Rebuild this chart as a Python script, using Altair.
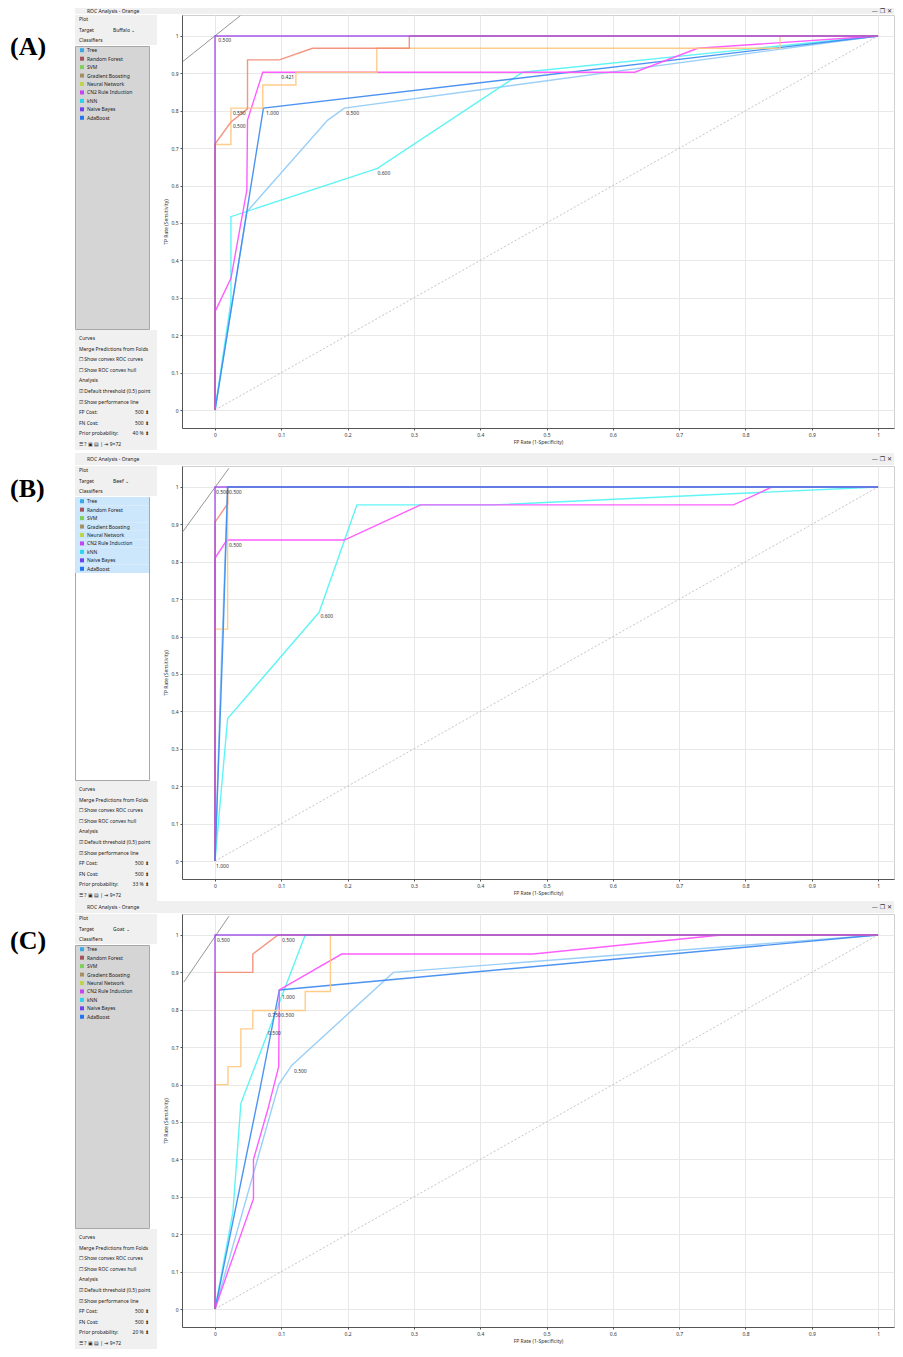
import altair as alt
import pandas as pd

# ---------------- text / categories ----------------
PANEL_LABELS = ["(A)", "(B)", "(C)"]
WINDOW_TITLE = "ROC Analysis - Orange"
TARGETS = ["Buffalo", "Beef", "Goat"]
PRIORS = ["40 %", "33 %", "20 %"]
CLASSIFIERS = ["Tree", "Random Forest", "SVM", "Gradient Boosting", "Neural Network",
               "CN2 Rule Induction", "kNN", "Naive Bayes", "AdaBoost"]
CLASSIFIER_COLORS = ["#3aa8e6", "#a5525b", "#7fcf5b", "#a58f60", "#bdd44b",
                     "#c543f0", "#2bd3ee", "#6d41ef", "#2174ef"]
TICKS = [0, 0.1, 0.2, 0.3, 0.4, 0.5, 0.6, 0.7, 0.8, 0.9, 1]
TOP_ROWS = ["Plot", "Target", "Classifiers"]
BOTTOM_ROWS = ["Curves", "Merge Predictions from Folds", "\u2610 Show convex ROC curves",
               "\u2610 Show ROC convex hull", "Analysis", "\u2611 Default threshold (0.5) point",
               "\u2611 Show performance line", "FP Cost:", "FN Cost:", "Prior probability:",
               "\u2630  ?  \u25a3  \u25a4  |  \u21e5 9\u00d772"]
FP_COST = "500"
FN_COST = "500"

# curve colours as drawn in the plots
C_LBLUE, C_CYAN, C_BLUE = "#8fcaf6", "#4ff3f5", "#3a88f0"
C_MAGENTA, C_ORANGE, C_SALMON, C_PURPLE = "#ff4cff", "#ffc77d", "#f38a73", "#9a46e8"

DIAG_X = [0, 1]
DIAG_Y = [0, 1]

# ---------------- panel A ----------------
A_LBLUE_X = [0, 0.048, 0.17, 0.195, 1]
A_LBLUE_Y = [0, 0.53, 0.775, 0.807, 1]
A_CYAN_X = [0, 0.024, 0.024, 0.245, 0.464, 1]
A_CYAN_Y = [0, 0.29, 0.517, 0.646, 0.903, 1]
A_BLUE_X = [0, 0.073, 1]
A_BLUE_Y = [0, 0.807, 1]
A_MAGENTA_X = [0, 0, 0.024, 0.048, 0.049, 0.072, 0.633, 0.728, 1]
A_MAGENTA_Y = [0, 0.263, 0.352, 0.588, 0.775, 0.903, 0.903, 0.967, 1]
A_ORANGE_X = [0, 0, 0.024, 0.024, 0.072, 0.072, 0.122, 0.122, 0.244, 0.244, 0.852, 0.852, 1]
A_ORANGE_Y = [0, 0.71, 0.71, 0.807, 0.807, 0.869, 0.869, 0.903, 0.903, 0.967, 0.967, 1, 1]
A_SALMON_X = [0, 0, 0.024, 0.049, 0.049, 0.097, 0.147, 0.293, 0.293, 1]
A_SALMON_Y = [0, 0.711, 0.77, 0.805, 0.936, 0.936, 0.967, 0.967, 1, 1]
A_PURPLE_X = [0, 0, 1]
A_PURPLE_Y = [0, 1, 1]
A_PERF_X = [-0.049, 0.038]
A_PERF_Y = [0.931, 1.054]
A_LABEL_X = [0.005, 0.10, 0.027, 0.027, 0.077, 0.198, 0.245]
A_LABEL_Y = [0.989, 0.89, 0.794, 0.759, 0.794, 0.794, 0.633]
A_LABEL_TEXT = ["0.500", "0.421", "0.550", "0.500", "1.000", "0.500", "0.600"]

# ---------------- panel B ----------------
B_LBLUE_X = [0, 0.008, 0.019, 1]
B_LBLUE_Y = [0, 0.45, 1, 1]
B_CYAN_X = [0, 0.019, 0.157, 0.214, 0.42, 1]
B_CYAN_Y = [0, 0.381, 0.665, 0.952, 0.952, 1]
B_BLUE_X = [0, 0.012, 0.019, 1]
B_BLUE_Y = [0, 0.594, 1, 1]
B_MAGENTA_X = [0, 0, 0.018, 0.195, 0.31, 0.782, 0.84, 1]
B_MAGENTA_Y = [0, 0.81, 0.858, 0.858, 0.952, 0.952, 1, 1]
B_ORANGE_X = [0, 0, 0.019, 0.019, 1]
B_ORANGE_Y = [0, 0.62, 0.62, 1, 1]
B_SALMON_X = [0, 0, 0.019, 0.019, 1]
B_SALMON_Y = [0, 0.906, 0.955, 1, 1]
B_PURPLE_X = [0, 0, 1]
B_PURPLE_Y = [0, 1, 1]
B_PERF_X = [-0.05, 0.021]
B_PERF_Y = [0.877, 1.05]
B_LABEL_X = [0.0015, 0.021, 0.021, 0.159, 0.0015]
B_LABEL_Y = [0.987, 0.987, 0.845, 0.654, -0.013]
B_LABEL_TEXT = ["0.500", "0.500", "0.500", "0.600", "1.000"]

# ---------------- panel C ----------------
C_LBLUE_X = [0, 0.096, 0.116, 0.269, 1]
C_LBLUE_Y = [0, 0.6, 0.652, 0.9, 1]
C_CYAN_X = [0, 0.027, 0.039, 0.136, 1]
C_CYAN_Y = [0, 0.26, 0.55, 1, 1]
C_BLUE_X = [0, 0.068, 0.097, 1]
C_BLUE_Y = [0, 0.59, 0.853, 1]
C_MAGENTA_X = [0, 0.02, 0.058, 0.058, 0.08, 0.096, 0.097, 0.191, 0.48, 0.763, 1]
C_MAGENTA_Y = [0, 0.103, 0.295, 0.40, 0.536, 0.648, 0.853, 0.949, 0.949, 1, 1]
C_ORANGE_X = [0, 0, 0.0196, 0.0196, 0.039, 0.039, 0.057, 0.057, 0.136, 0.136, 0.174, 0.174, 1]
C_ORANGE_Y = [0, 0.60, 0.60, 0.648, 0.648, 0.749, 0.749, 0.798, 0.798, 0.849, 0.849, 1, 1]
C_SALMON_X = [0, 0, 0.057, 0.057, 0.095, 1]
C_SALMON_Y = [0, 0.90, 0.90, 0.949, 1, 1]
C_PURPLE_X = [0, 0, 1]
C_PURPLE_Y = [0, 1, 1]
C_PERF_X = [-0.047, 0.021]
C_PERF_Y = [0.874, 1.05]
C_LABEL_X = [0.003, 0.101, 0.101, 0.08, 0.1, 0.08, 0.119]
C_LABEL_Y = [0.986, 0.986, 0.835, 0.786, 0.786, 0.737, 0.636]
C_LABEL_TEXT = ["0.500", "0.500", "1.000", "0.750", "0.500", "0.500", "0.500"]

# ---------------- styling ----------------
UI_FONT = "Noto Sans"
X_DOMAIN = [-0.0498, 1.024]
Y_DOMAIN = [-0.048, 1.056]
PLOT_W, PLOT_H = 712, 413
SIDE_W = 82
LABEL_W = 66
BODY_SPACING = 6
ROW_H = 445
TITLEBAR_HEIGHTS = [6, 12, 12]
LABEL_Y = [39, 36, 40]

axis_common = dict(values=TICKS, format="~g", grid=True, gridColor="#e8e8e8",
                   domainColor="#555", tickColor="#555", tickSize=2,
                   labelFontSize=5, titleFontSize=5, titleFontWeight="normal",
                   labelColor="#333", titleColor="#333", labelFont=UI_FONT,
                   titleFont=UI_FONT, labelPadding=2, titlePadding=2)
X = alt.X("fpr:Q", scale=alt.Scale(domain=X_DOMAIN, nice=False, zero=False),
          axis=alt.Axis(title="FP Rate (1-Specificity)", **axis_common))
Y = alt.Y("tpr:Q", scale=alt.Scale(domain=Y_DOMAIN, nice=False, zero=False),
          axis=alt.Axis(title="TP Rate (Sensitivity)", **axis_common))


def line_layer(xs, ys, color, width=1.4, dash=None, opacity=0.9):
    df = pd.DataFrame({"fpr": xs, "tpr": ys, "i": list(range(len(xs)))})
    kw = dict(color=color, strokeWidth=width, clip=True, opacity=opacity)
    if dash:
        kw["strokeDash"] = dash
    return alt.Chart(df).mark_line(**kw).encode(x=X, y=Y, order="i:Q")


def roc_plot(curves, perf, lab_x, lab_y, lab_t):
    layers = [line_layer(DIAG_X, DIAG_Y, "#b5b5b5", width=0.8, dash=[2, 2], opacity=1),
              line_layer(perf[0], perf[1], "#7a7a7a", width=0.8, opacity=1)]
    for xs, ys, col in curves:
        layers.append(line_layer(xs, ys, col))
    ldf = pd.DataFrame({"fpr": lab_x, "tpr": lab_y, "t": lab_t})
    layers.append(alt.Chart(ldf).mark_text(align="left", baseline="middle", fontSize=5,
                                           font=UI_FONT, color="#333")
                  .encode(x=X, y=Y, text="t:N"))
    return alt.layer(*layers).properties(
        width=PLOT_W, height=PLOT_H,
        view=alt.ViewBackground(fill="white", stroke="#cfcfcf"))


def sidebar(target, prior, list_fill, highlight):
    tdf = pd.DataFrame({"k": list(range(len(TOP_ROWS))), "label": TOP_ROWS,
                        "val": ["", target + "   \u2304", ""]})
    ty = alt.Y("k:O", axis=None, scale=alt.Scale(range=[4, 25], padding=0))
    tbase = alt.Chart(tdf)
    top = alt.layer(
        tbase.mark_text(align="left", baseline="middle", fontSize=5, font=UI_FONT, color="#222")
        .encode(x=alt.value(4), y=ty, text="label:N"),
        tbase.mark_text(align="left", baseline="middle", fontSize=5, font=UI_FONT, color="#222")
        .encode(x=alt.value(38), y=ty, text="val:N"),
    ).properties(width=SIDE_W, height=30,
                 view=alt.ViewBackground(fill="#f0f0f0", stroke=None))

    cdf = pd.DataFrame({"clf": CLASSIFIERS})
    cy = alt.Y("clf:N", sort=CLASSIFIERS, axis=None,
               scale=alt.Scale(type="band", range=[0, 76], paddingInner=0, paddingOuter=0))
    cbase = alt.Chart(cdf)
    lst_layers = []
    if highlight:
        lst_layers.append(cbase.mark_rect(color=highlight).encode(y=cy))
    lst_layers += [
        cbase.mark_square(size=16, opacity=1).encode(
            x=alt.value(7), y=cy,
            color=alt.Color("clf:N", scale=alt.Scale(domain=CLASSIFIERS, range=CLASSIFIER_COLORS),
                            legend=None)),
        cbase.mark_text(align="left", baseline="middle", fontSize=5, font=UI_FONT, color="#222")
        .encode(x=alt.value(12), y=cy, text="clf:N"),
    ]
    lst = alt.layer(*lst_layers).properties(
        width=SIDE_W - 8, height=283,
        view=alt.ViewBackground(fill=list_fill, stroke="#a8a8a8"))

    bvals = [""] * 7 + [FP_COST + " \u2b0d", FN_COST + " \u2b0d", prior + " \u2b0d", ""]
    bdf = pd.DataFrame({"k": list(range(len(BOTTOM_ROWS))), "label": BOTTOM_ROWS, "val": bvals})
    by = alt.Y("k:O", axis=None, scale=alt.Scale(range=[8, 114], padding=0))
    bbase = alt.Chart(bdf)
    bottom = alt.layer(
        bbase.mark_text(align="left", baseline="middle", fontSize=5, font=UI_FONT, color="#222")
        .encode(x=alt.value(4), y=by, text="label:N"),
        bbase.mark_text(align="right", baseline="middle", fontSize=5, font=UI_FONT, color="#222")
        .encode(x=alt.value(74), y=by, text="val:N"),
    ).properties(width=SIDE_W, height=120,
                 view=alt.ViewBackground(fill="#f0f0f0", stroke=None))
    return alt.vconcat(top, lst, bottom, spacing=0)


TITLEBAR_W = SIDE_W + BODY_SPACING + 19 + PLOT_W


def titlebar(h):
    df = pd.DataFrame({"t": [WINDOW_TITLE], "b": ["\u2014      \u2750      \u2715"]})
    base = alt.Chart(df)
    return alt.layer(
        base.mark_text(align="left", baseline="middle", fontSize=5, font=UI_FONT, color="#222")
        .encode(x=alt.value(12), y=alt.value(h / 2), text="t:N"),
        base.mark_text(align="right", baseline="middle", fontSize=6, font="DejaVu Sans", color="#333")
        .encode(x=alt.value(TITLEBAR_W - 2), y=alt.value(h / 2), text="b:N"),
    ).properties(width=TITLEBAR_W, height=h, view=alt.ViewBackground(fill="#f0f0f0", stroke=None))


def label_chart(text, ly):
    df = pd.DataFrame({"t": [text]})
    return alt.Chart(df).mark_text(align="left", baseline="middle", fontSize=26,
                                   font="Liberation Serif", fontWeight="bold", color="black") \
        .encode(x=alt.value(2), y=alt.value(ly), text="t:N") \
        .properties(width=LABEL_W, height=ROW_H, view=alt.ViewBackground(fill="white", stroke=None))


panels = [
    dict(curves=[(A_LBLUE_X, A_LBLUE_Y, C_LBLUE), (A_CYAN_X, A_CYAN_Y, C_CYAN),
                 (A_BLUE_X, A_BLUE_Y, C_BLUE), (A_MAGENTA_X, A_MAGENTA_Y, C_MAGENTA),
                 (A_ORANGE_X, A_ORANGE_Y, C_ORANGE), (A_SALMON_X, A_SALMON_Y, C_SALMON),
                 (A_PURPLE_X, A_PURPLE_Y, C_PURPLE)],
         perf=(A_PERF_X, A_PERF_Y), lx=A_LABEL_X, ly=A_LABEL_Y, lt=A_LABEL_TEXT,
         list_fill="#d5d5d5", highlight=None),
    dict(curves=[(B_LBLUE_X, B_LBLUE_Y, C_LBLUE), (B_CYAN_X, B_CYAN_Y, C_CYAN),
                 (B_MAGENTA_X, B_MAGENTA_Y, C_MAGENTA), (B_ORANGE_X, B_ORANGE_Y, C_ORANGE),
                 (B_SALMON_X, B_SALMON_Y, C_SALMON), (B_PURPLE_X, B_PURPLE_Y, C_PURPLE),
                 (B_BLUE_X, B_BLUE_Y, C_BLUE)],
         perf=(B_PERF_X, B_PERF_Y), lx=B_LABEL_X, ly=B_LABEL_Y, lt=B_LABEL_TEXT,
         list_fill="#ffffff", highlight="#cce6fb"),
    dict(curves=[(C_LBLUE_X, C_LBLUE_Y, C_LBLUE), (C_CYAN_X, C_CYAN_Y, C_CYAN),
                 (C_BLUE_X, C_BLUE_Y, C_BLUE), (C_MAGENTA_X, C_MAGENTA_Y, C_MAGENTA),
                 (C_ORANGE_X, C_ORANGE_Y, C_ORANGE), (C_SALMON_X, C_SALMON_Y, C_SALMON),
                 (C_PURPLE_X, C_PURPLE_Y, C_PURPLE)],
         perf=(C_PERF_X, C_PERF_Y), lx=C_LABEL_X, ly=C_LABEL_Y, lt=C_LABEL_TEXT,
         list_fill="#d5d5d5", highlight=None),
]

rows = []
for i, p in enumerate(panels):
    body = alt.hconcat(sidebar(TARGETS[i], PRIORS[i], p["list_fill"], p["highlight"]),
                       roc_plot(p["curves"], p["perf"], p["lx"], p["ly"], p["lt"]),
                       spacing=BODY_SPACING)
    window = alt.vconcat(titlebar(TITLEBAR_HEIGHTS[i]), body, spacing=0)
    rows.append(alt.hconcat(label_chart(PANEL_LABELS[i], LABEL_Y[i]), window, spacing=0))

chart = alt.vconcat(*rows, spacing=0).properties(padding=0, background="white") \
    .configure_view(stroke=None)

chart.save("out.html", embed_options={"renderer": "svg", "actions": False})
